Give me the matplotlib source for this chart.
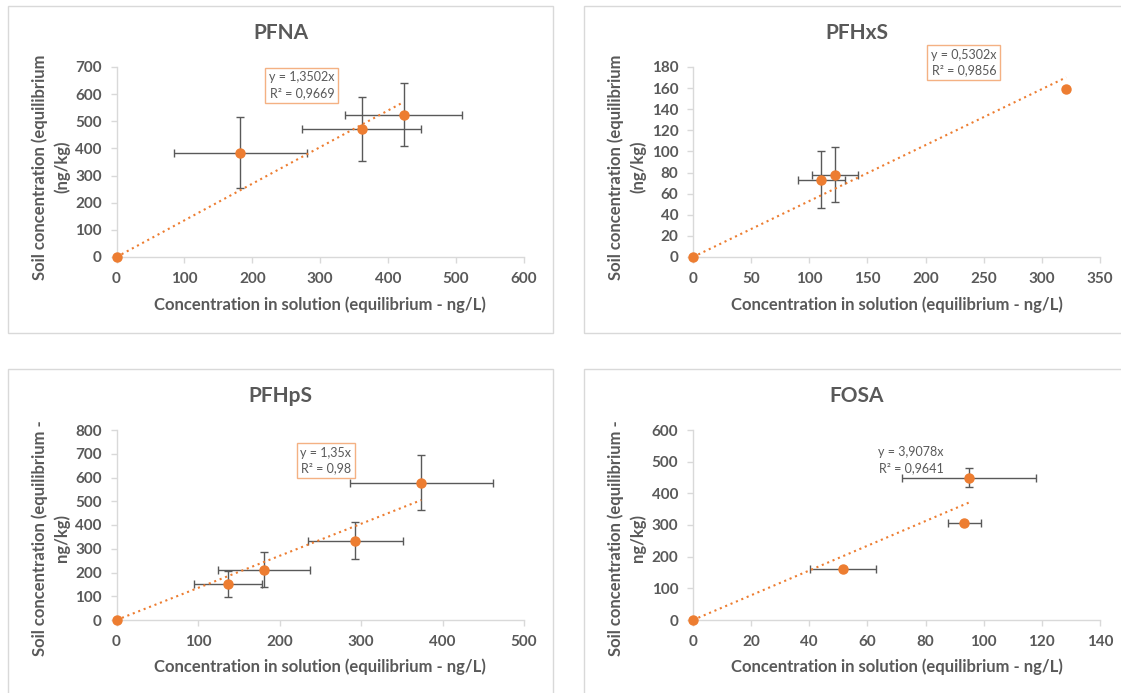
import matplotlib
matplotlib.use("Agg")
import matplotlib.pyplot as plt
from matplotlib.patches import Rectangle

plt.rcParams['font.family'] = ['Lato', 'DejaVu Sans']

# ---- data ----
pfna_x = [0, 182, 361, 423]
pfna_y = [0, 384, 472, 525]
pfna_xerr = [0, 98, 88, 86]
pfna_yerr = [0, 131, 118, 115]

pfhxs_x = [0, 110.5, 122, 321]
pfhxs_y = [0, 73, 78, 159]
pfhxs_xerr = [0, 20.5, 19.5, 0]
pfhxs_yerr = [0, 27, 26, 0]

pfhps_x = [0, 137, 181, 293, 374]
pfhps_y = [0, 152, 212, 334, 578]
pfhps_xerr = [0, 41.5, 57, 58, 88]
pfhps_yerr = [0, 56, 75, 78, 116]

fosa_x = [0, 51.6, 93.3, 95]
fosa_y = [0, 161, 305, 450]
fosa_xerr = [0, 11.3, 5.7, 23]
fosa_yerr = [0, 0, 0, 31]

slopes = [1.3502, 0.5302, 1.35, 3.9078]
equations = ["y = 1,3502x\nR² = 0,9669", "y = 0,5302x\nR² = 0,9856",
             "y = 1,35x\nR² = 0,98", "y = 3,9078x\nR² = 0,9641"]
titles = ["PFNA", "PFHxS", "PFHpS", "FOSA"]
ylabels = ["Soil concentration (equilibrium\n(ng/kg)",
           "Soil concentration (equilibrium\n(ng/kg)",
           "Soil concentration (equilibrium -\nng/kg)",
           "Soil concentration (equilibrium -\nng/kg)"]
xlabel = "Concentration in solution (equilibrium - ng/L)"

xlims = [(0, 600), (0, 350), (0, 500), (0, 140)]
ylims = [(0, 700), (0, 180), (0, 800), (0, 600)]
xsteps = [100, 50, 100, 20]
ysteps = [100, 20, 100, 100]

W, H = 1121, 693
ORANGE = '#ED7D31'
GREY = '#595959'
LIGHT = '#D9D9D9'

fig = plt.figure(figsize=(W / 100, H / 100), dpi=100)


def fx(px):
    return px / W


def fy(py):
    return 1 - py / H


# axes boxes in pixels: left, right, top, bottom
boxes = [(116.5, 524, 67, 257), (693, 1100, 67, 257),
         (116.5, 524, 430, 620), (693, 1100, 430, 620)]
# chart area borders: left, top, right, bottom
frames = [(8, 6, 553, 333), (584, 6, 1130, 333),
          (8, 369, 553, 700), (584, 369, 1130, 700)]
title_y = [33, 33, 396, 396]
ylab_x = [51, 627, 51, 627]
ylab_y = [167, 167, 538, 538]
xlab_y = [305, 305, 667, 667]
eq_pos = [(273, 633), (233, 184), (257, 670), (75, 505)]
eq_box = [True, True, True, False]

series = [(pfna_x, pfna_y, pfna_xerr, pfna_yerr),
          (pfhxs_x, pfhxs_y, pfhxs_xerr, pfhxs_yerr),
          (pfhps_x, pfhps_y, pfhps_xerr, pfhps_yerr),
          (fosa_x, fosa_y, fosa_xerr, fosa_yerr)]

for i in range(4):
    l, r, t, b = boxes[i]
    ax = fig.add_axes([fx(l), fy(b), (r - l) / W, (b - t) / H])

    fl, ft, fr, fb = frames[i]
    fig.patches.append(Rectangle((fx(fl), fy(fb)), (fr - fl) / W, (fb - ft) / H,
                                 transform=fig.transFigure, fill=False,
                                 edgecolor=LIGHT, linewidth=1))

    x, y, xe, ye = series[i]
    ax.errorbar(x, y, xerr=xe, yerr=ye, fmt='none', ecolor=GREY,
                elinewidth=1, capsize=2.6, capthick=1, zorder=2, clip_on=False)
    ax.plot(x, y, 'o', color=ORANGE, markersize=6.5, zorder=4, clip_on=False)
    xmax = max(x)
    ax.plot([0, xmax], [0, slopes[i] * xmax], color=ORANGE, linewidth=1.5,
            linestyle=(0, (1, 1.8)), zorder=3)

    ax.set_xlim(*xlims[i])
    ax.set_ylim(*ylims[i])
    ax.set_xticks(range(xlims[i][0], xlims[i][1] + 1, xsteps[i]))
    ax.set_yticks(range(ylims[i][0], ylims[i][1] + 1, ysteps[i]))
    for s in ['top', 'right']:
        ax.spines[s].set_visible(False)
    for s in ['left', 'bottom']:
        ax.spines[s].set_color(LIGHT)
        ax.spines[s].set_linewidth(1)
    ax.tick_params(axis='both', colors=LIGHT, length=4, width=1,
                   labelcolor=GREY, labelsize=11)
    ax.tick_params(axis='x', pad=6.5)
    ax.tick_params(axis='y', pad=6.5)
    for lab in ax.get_xticklabels() + ax.get_yticklabels():
        lab.set_fontweight('bold')

    bbox = None
    if eq_box[i]:
        bbox = dict(boxstyle='square,pad=0.3', facecolor='white',
                    edgecolor='#F4B183', linewidth=1)
    ax.text(eq_pos[i][0], eq_pos[i][1], equations[i], ha='center', va='center',
            fontsize=9, color=GREY, linespacing=1.35, bbox=bbox, zorder=5)

    fig.text(fx((fl + fr) / 2), fy(title_y[i]), titles[i], ha='center', va='center',
             fontsize=15, fontweight='bold', color=GREY)
    fig.text(fx((l + r) / 2), fy(xlab_y[i]), xlabel, ha='center', va='center',
             fontsize=12, fontweight='bold', color=GREY)
    fig.text(fx(ylab_x[i]), fy(ylab_y[i]), ylabels[i], ha='center', va='center',
             rotation=90, multialignment='center', linespacing=1.4,
             fontsize=12, fontweight='bold', color=GREY)

fig.savefig('out.png', dpi=100)
